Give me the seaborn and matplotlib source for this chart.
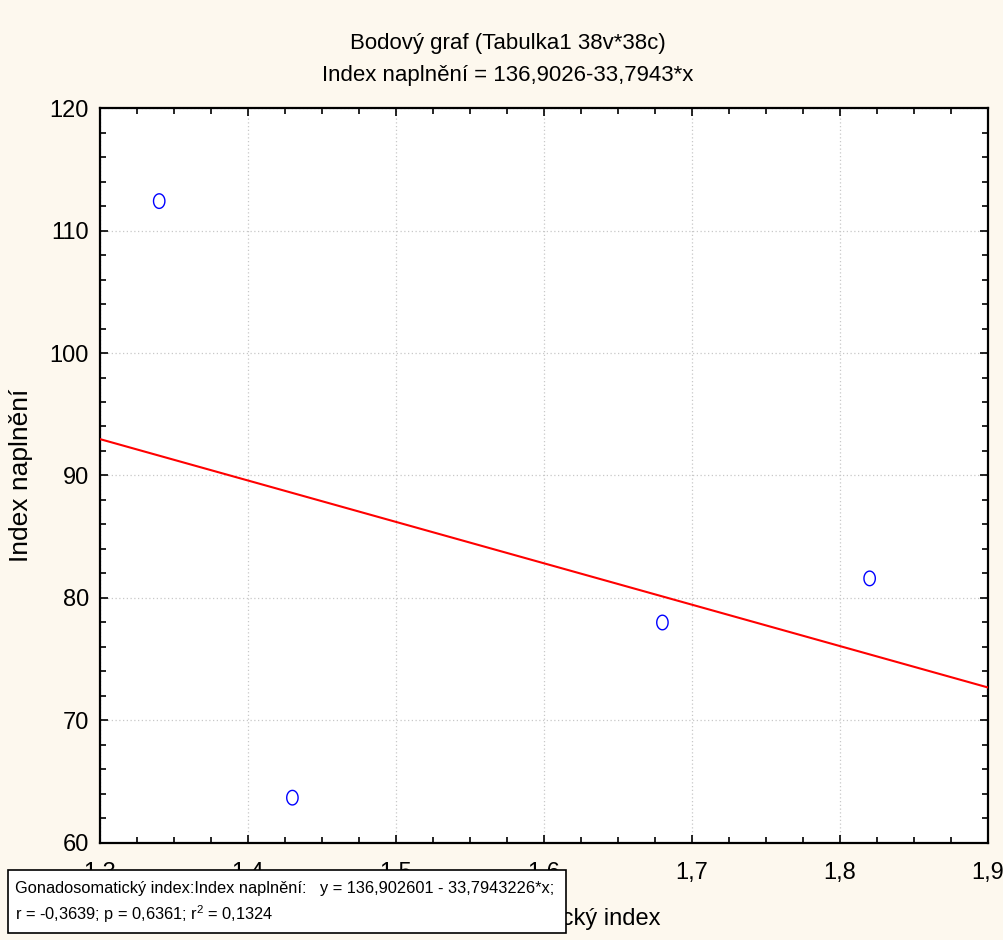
"""
plot.py
Bodovy graf - Gonadosomaticky index vs Index naplneni (STATISTICA style scatter).
"""

import numpy as np
import pandas as pd
import matplotlib
matplotlib.use("Agg")
import matplotlib.pyplot as plt
import seaborn as sns
from matplotlib import font_manager
from matplotlib.patches import Rectangle
from matplotlib.path import Path
from matplotlib.ticker import MultipleLocator, FuncFormatter

# data
gsi = [1.34, 1.43, 1.68, 1.82]
fill_index = [112.4, 63.7, 78.0, 81.6]
intercept = 136.902601
slope = -33.7943226

x_ticks = [1.3, 1.4, 1.5, 1.6, 1.7, 1.8, 1.9]
y_ticks = [60, 70, 80, 90, 100, 110, 120]

title_1 = "Bodový graf (Tabulka1 38v*38c)"
title_2 = "Index naplnění = 136,9026-33,7943*x"
x_label = "Gonadosomatický index"
y_label = "Index naplnění"
box_line_1 = "Gonadosomatický index:Index naplnění:   y = 136,902601 - 33,7943226*x;"
box_line_2 = "r = -0,3639; p = 0,6361; r$^2$ = 0,1324"

sns.set_style("ticks")

installed = {f.name for f in font_manager.fontManager.ttflist}
narrow = "Liberation Sans Narrow" if "Liberation Sans Narrow" in installed else "Liberation Sans"
plt.rcParams['font.family'] = [narrow, 'DejaVu Sans']
plt.rcParams['mathtext.fontset'] = 'custom'
plt.rcParams['mathtext.rm'] = narrow
plt.rcParams['text.color'] = 'black'
plt.rcParams['axes.labelcolor'] = 'black'
plt.rcParams['xtick.color'] = 'black'
plt.rcParams['ytick.color'] = 'black'

bg = "#fdf8ee"
fig = plt.figure(figsize=(10.04, 9.4), dpi=100, facecolor=bg)
ax = fig.add_axes([0.0996, 0.1032, 0.8845, 0.7819])
ax.set_facecolor("white")

df = pd.DataFrame({"gsi": gsi, "fill": fill_index})

# slightly tall open circles like the original
theta = np.linspace(0, 2 * np.pi, 60)
ellipse = Path(np.column_stack([0.78 * np.cos(theta), np.sin(theta)]), closed=True)

ax.set_xlim(x_ticks[0], x_ticks[-1])
ax.set_ylim(y_ticks[0], y_ticks[-1])

line_x = np.array(ax.get_xlim())
line_df = pd.DataFrame({"x": line_x, "y": intercept + slope * line_x})
sns.lineplot(data=line_df, x="x", y="y", color="#ff0000", linewidth=1.5, ax=ax, zorder=3)
sns.scatterplot(data=df, x="gsi", y="fill", marker=ellipse, s=110, facecolors="none",
                edgecolor="#0000ff", linewidth=1.0, ax=ax, zorder=4)

ax.set_xlim(x_ticks[0], x_ticks[-1])
ax.set_ylim(y_ticks[0], y_ticks[-1])
ax.set_xticks(x_ticks)
ax.set_yticks(y_ticks)
ax.xaxis.set_minor_locator(MultipleLocator(0.025))
ax.yaxis.set_minor_locator(MultipleLocator(2))
ax.xaxis.set_major_formatter(FuncFormatter(lambda v, p: f"{v:.1f}".replace(".", ",")))
ax.yaxis.set_major_formatter(FuncFormatter(lambda v, p: f"{v:.0f}"))

ax.tick_params(which="both", direction="in", top=True, right=True, colors="black",
               labelsize=17)
ax.tick_params(which="major", length=6, width=1.2)
ax.tick_params(which="minor", length=4, width=1.2)
ax.tick_params(axis="x", which="major", pad=14)
ax.tick_params(axis="y", which="major", pad=8)

for sp in ax.spines.values():
    sp.set_visible(True)
    sp.set_color("black")
    sp.set_linewidth(1.6)

ax.grid(True, which="major", linestyle=(0, (1, 2)), color="#c8c8c8", linewidth=0.9)
ax.set_axisbelow(True)

ax.set_xlabel(x_label, fontsize=17)
ax.xaxis.set_label_coords(0.489, -0.089)
ax.set_ylabel(y_label, fontsize=19, family=["Liberation Sans", "DejaVu Sans"])
ax.yaxis.set_label_coords(-0.076, 0.5)

fig.text(0.506, 0.954, title_1, ha="center", va="center", fontsize=16)
fig.text(0.506, 0.920, title_2, ha="center", va="center", fontsize=16)

# statistics box overlapping the x axis labels
fig.patches.append(Rectangle((0.008, 0.0074), 0.556, 0.067, transform=fig.transFigure,
                             facecolor="white", edgecolor="black", linewidth=1.2, zorder=5))
fig.text(0.015, 0.055, box_line_1, ha="left", va="center", fontsize=11.8, zorder=6)
fig.text(0.015, 0.027, box_line_2, ha="left", va="center", fontsize=11.8, zorder=6)

plt.savefig("out.png", dpi=100, facecolor=bg)
plt.close()
